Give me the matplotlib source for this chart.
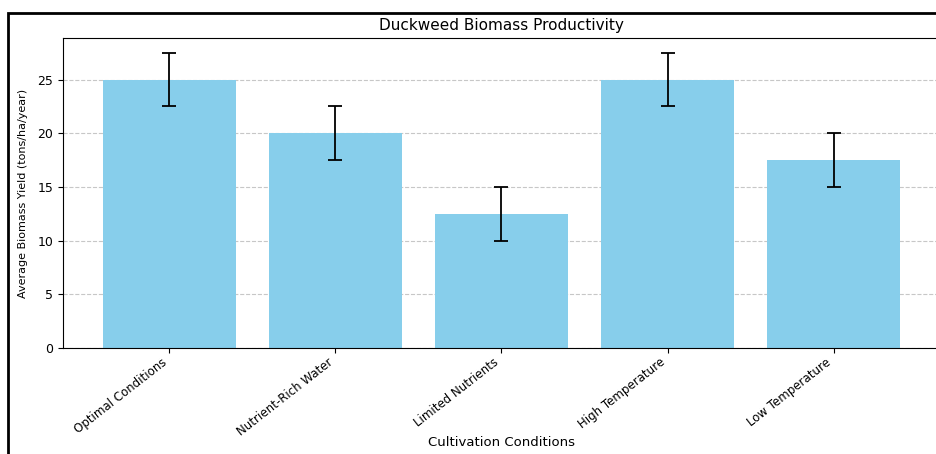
import matplotlib
matplotlib.use('Agg')
import matplotlib.pyplot as plt
from matplotlib.patches import Rectangle

# Data
conditions = ['Optimal Conditions', 'Nutrient-Rich Water', 'Limited Nutrients',
              'High Temperature', 'Low Temperature']
yields = [25, 20, 12.5, 25, 17.5]
errors = [2.5, 2.5, 2.5, 2.5, 2.5]

fig = plt.figure(figsize=(9.37, 4.54), dpi=100)
# axes runs a little past the right edge, as in the cropped reference
ax = fig.add_axes([63 / 937, 1 - 348 / 454, 877 / 937, 310 / 454])

ax.bar(conditions, yields, yerr=errors, capsize=4.8, color='skyblue',
       error_kw={'elinewidth': 1.3, 'capthick': 1.3})
ax.set_title('Duckweed Biomass Productivity', fontsize=11)
ax.set_xlabel('Cultivation Conditions', fontsize=9.5)
ax.xaxis.set_label_coords(0.5, -0.285)
ax.set_ylabel('Average Biomass Yield (tons/ha/year)', fontsize=8)
ax.yaxis.set_label_coords(-0.040, 0.5)
ax.tick_params(axis='both', labelsize=9)
ax.tick_params(axis='x', pad=2)
plt.setp(ax.get_xticklabels(), rotation=38, ha='right', fontsize=8.5)
ax.grid(axis='y', linestyle='--', alpha=0.7)
ax.set_axisbelow(True)

# outer frame around the screenshot
fig.patches.append(Rectangle((8 / 937, -0.1), 1.2, 1 - 13 / 454 + 0.1,
                             transform=fig.transFigure, fill=False,
                             edgecolor='black', linewidth=2))

fig.savefig('out.png', dpi=100)
